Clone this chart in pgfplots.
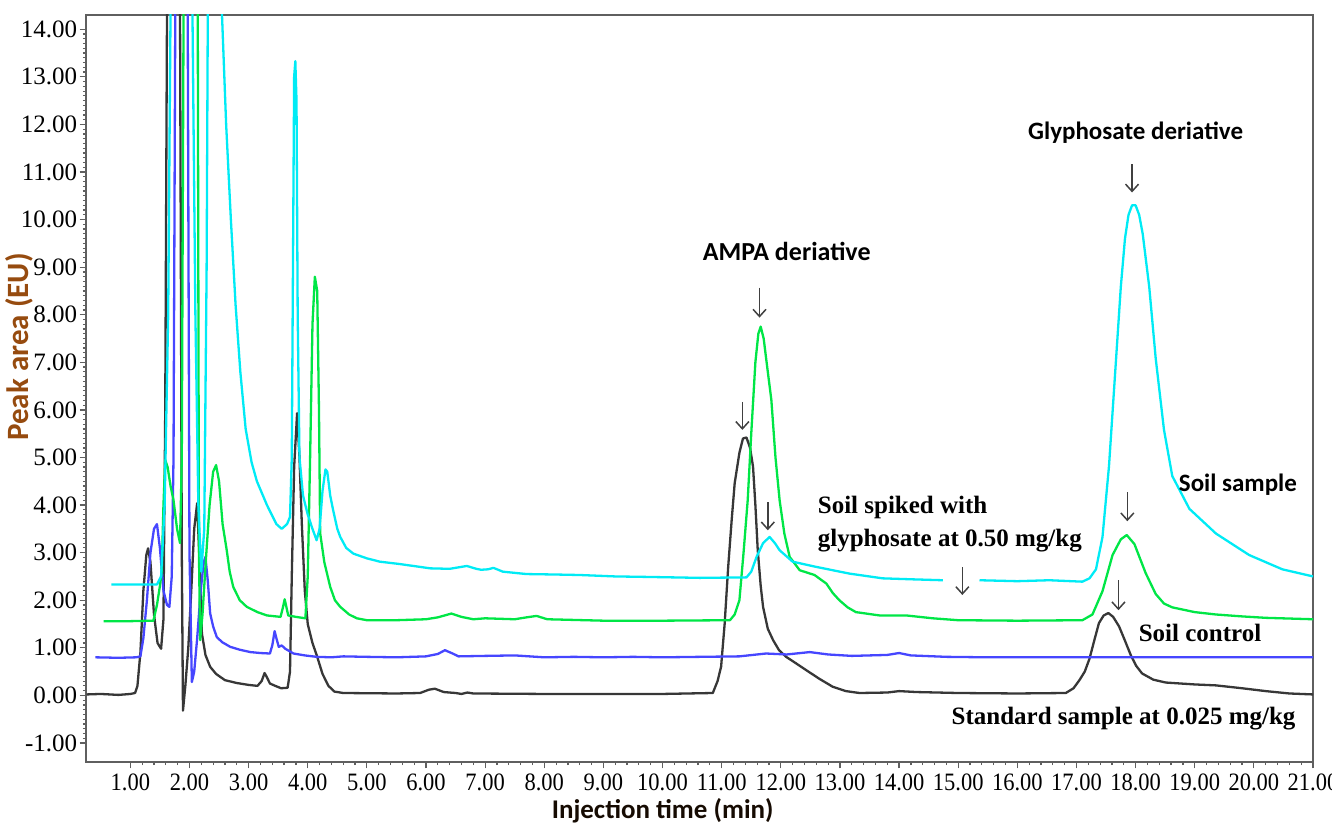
\documentclass[border=0pt]{standalone}
\usepackage{fontspec}
\setmainfont{Liberation Serif}
\newfontfamily\calib{Carlito}
\usepackage{graphicx}
\usepackage{pgfplots}
\pgfplotsset{compat=1.18}
\usetikzlibrary{arrows.meta}
\definecolor{cblack}{RGB}{55,55,55}
\definecolor{cblue}{RGB}{70,70,255}
\definecolor{cgreen}{RGB}{0,230,70}
\definecolor{ccyan}{RGB}{0,235,245}
\definecolor{axgray}{RGB}{95,95,95}
\definecolor{ylab}{RGB}{150,75,15}
\begin{document}
\begin{tikzpicture}
\begin{axis}[
  scale only axis, width=613.5pt, height=373.5pt,
  xmin=0.25, xmax=21, ymin=-1.4, ymax=14.3,
  xtick={1,...,21}, ytick={-1,0,...,14},
  minor x tick num=4, minor y tick num=9,
  tick align=outside, xtick pos=bottom, ytick pos=left,
  major tick length=3.2pt, minor tick length=1.6pt,
  every tick/.style={axgray, line width=0.6pt},
  axis line style={axgray, line width=1pt},
  unbounded coords=jump,
  xticklabel={\scalebox{0.9}[1]{\pgfmathprintnumber[fixed,fixed zerofill,precision=2,assume math mode=true]{\tick}}},
  yticklabel={\pgfmathprintnumber[fixed,fixed zerofill,precision=2,assume math mode=true]{\tick}},
  xticklabel style={font=\fontsize{12.5}{12.5}\selectfont, inner sep=1pt, yshift=-1.5pt},
  yticklabel style={font=\fontsize{12.5}{12.5}\selectfont, inner sep=1pt},
  xlabel={Injection time (min)},
  ylabel={Peak area (EU)},
  xlabel style={font=\calib\bfseries\fontsize{13.5}{13.5}\selectfont, color={black!85!ylab}, at={(axis description cs:0.47,-0.0655)}, anchor=center},
  ylabel style={font=\calib\bfseries\fontsize{15.5}{15.5}\selectfont, color=ylab, at={(axis description cs:-0.054,0.5556)}, anchor=center, rotate=0},
  every axis plot/.append style={line width=1.15pt, line join=round},
]
% Standard sample at 0.025 mg/kg
\addplot[cblack] coordinates {
(0.26,0.02) (0.5,0.03) (0.8,0.01) (1.0,0.03) (1.08,0.05) (1.12,0.2) (1.17,0.9) (1.22,2.2) (1.27,2.95) (1.30,3.09) (1.34,2.8) (1.40,1.7) (1.46,1.1) (1.52,0.98) (1.56,1.6) (1.59,6) (1.62,14.4) (1.73,20) (1.84,14.4) (1.87,3) (1.89,-0.32) (1.93,0.2) (1.98,1.0) (2.03,2.2) (2.08,3.5) (2.13,4.04) (2.17,2.8) (2.21,1.3) (2.27,0.85) (2.35,0.6) (2.45,0.45) (2.6,0.32) (2.8,0.26) (3.0,0.22) (3.15,0.2) (3.22,0.3) (3.27,0.47) (3.31,0.38) (3.36,0.25) (3.45,0.2) (3.55,0.15) (3.66,0.16) (3.70,0.5) (3.73,2.5) (3.77,4.8) (3.82,5.93) (3.86,5.0) (3.90,3.6) (3.95,2.2) (4.00,1.5) (4.08,1.1) (4.15,0.85) (4.25,0.45) (4.35,0.2) (4.45,0.08) (4.6,0.05) (5.5,0.04) (5.9,0.05) (6.05,0.12) (6.15,0.14) (6.3,0.07) (6.5,0.05) (6.6,0.03) (6.7,0.06) (6.8,0.04) (8,0.03) (10,0.03) (10.85,0.05) (10.93,0.3) (10.99,0.6) (11.05,1.5) (11.11,2.7) (11.17,3.7) (11.22,4.46) (11.3,5.1) (11.36,5.4) (11.42,5.42) (11.48,5.2) (11.53,4.81) (11.57,4.0) (11.61,3.05) (11.66,2.3) (11.70,1.86) (11.78,1.4) (11.87,1.16) (11.97,0.95) (12.09,0.81) (12.25,0.68) (12.43,0.53) (12.65,0.35) (12.88,0.18) (13.1,0.09) (13.33,0.05) (13.8,0.06) (14.0,0.09) (14.3,0.07) (15,0.05) (16,0.04) (16.82,0.05) (16.95,0.15) (17.05,0.32) (17.14,0.5) (17.22,0.77) (17.30,1.15) (17.38,1.52) (17.46,1.68) (17.54,1.73) (17.62,1.65) (17.72,1.45) (17.82,1.15) (17.92,0.84) (18.01,0.62) (18.11,0.46) (18.3,0.33) (18.51,0.27) (19,0.23) (19.36,0.21) (19.8,0.15) (20.2,0.09) (20.6,0.04) (21,0.02)
};
% Soil control
\addplot[cblue] coordinates {
(0.41,0.8) (0.8,0.79) (1.1,0.8) (1.17,0.82) (1.22,1.2) (1.28,2.0) (1.34,3.0) (1.40,3.5) (1.45,3.6) (1.50,3.1) (1.56,2.2) (1.62,1.9) (1.66,1.86) (1.70,2.5) (1.73,5) (1.76,14.4) (1.87,20) (1.97,14.4) (2.00,3) (2.04,0.28) (2.08,0.5) (2.13,1.2) (2.19,2.2) (2.24,2.8) (2.27,2.91) (2.31,2.4) (2.35,1.72) (2.40,1.45) (2.46,1.23) (2.55,1.12) (2.69,1.02) (2.85,0.96) (3.03,0.91) (3.2,0.89) (3.36,0.88) (3.40,1.05) (3.44,1.35) (3.47,1.2) (3.51,1.02) (3.56,1.05) (3.62,0.98) (3.76,0.88) (3.95,0.84) (4.15,0.81) (4.4,0.8) (4.6,0.82) (5.0,0.81) (5.5,0.8) (6.0,0.82) (6.2,0.87) (6.32,0.95) (6.45,0.88) (6.55,0.82) (7.0,0.83) (7.5,0.84) (8.0,0.8) (8.5,0.81) (9,0.80) (9.5,0.81) (10,0.80) (10.63,0.81) (11.3,0.82) (11.75,0.88) (12.1,0.86) (12.49,0.91) (12.8,0.86) (13.2,0.83) (13.8,0.85) (14.0,0.89) (14.2,0.84) (14.8,0.81) (15.5,0.8) (17,0.8) (19,0.8) (21,0.8)
};
% Soil spiked with glyphosate at 0.50 mg/kg
\addplot[cgreen] coordinates {
(0.55,1.56) (1.0,1.56) (1.39,1.57) (1.45,1.9) (1.50,2.3) (1.53,2.6) (1.56,4.0) (1.59,4.95) (1.63,4.8) (1.68,4.4) (1.73,4.1) (1.79,3.5) (1.84,3.2) (1.87,5) (1.90,14.4) (2.02,20) (2.14,14.4) (2.16,3) (2.18,1.16) (2.22,1.7) (2.28,2.9) (2.34,4.0) (2.40,4.7) (2.45,4.84) (2.50,4.5) (2.56,3.6) (2.63,3.05) (2.68,2.6) (2.74,2.28) (2.85,2.0) (2.97,1.86) (3.15,1.75) (3.31,1.68) (3.54,1.65) (3.58,1.85) (3.61,2.02) (3.64,1.85) (3.67,1.68) (3.8,1.65) (3.96,1.62) (4.00,2.5) (4.04,5) (4.08,7.8) (4.12,8.8) (4.16,8.5) (4.19,6) (4.21,3.41) (4.28,2.8) (4.38,2.28) (4.46,2.0) (4.55,1.86) (4.7,1.7) (4.83,1.62) (5.0,1.58) (5.5,1.58) (6.0,1.6) (6.2,1.64) (6.43,1.72) (6.6,1.65) (6.8,1.6) (7.0,1.62) (7.5,1.6) (7.7,1.64) (7.87,1.67) (8.05,1.6) (9,1.57) (10,1.57) (11.14,1.58) (11.22,1.7) (11.3,2.0) (11.37,3.0) (11.44,4.1) (11.5,5.5) (11.57,7.0) (11.62,7.6) (11.66,7.75) (11.71,7.5) (11.78,6.8) (11.84,6.21) (11.91,5.0) (11.98,4.1) (12.06,3.4) (12.15,2.91) (12.32,2.63) (12.57,2.53) (12.77,2.35) (12.88,2.15) (12.99,2.0) (13.13,1.85) (13.27,1.75) (13.67,1.68) (14.12,1.68) (14.57,1.62) (15,1.58) (16,1.57) (17.1,1.58) (17.27,1.7) (17.44,2.19) (17.61,2.95) (17.75,3.28) (17.85,3.37) (17.98,3.18) (18.17,2.57) (18.34,2.13) (18.48,1.93) (18.62,1.85) (19.0,1.75) (19.36,1.7) (19.8,1.66) (20.2,1.63) (21,1.6)
};
% Soil sample
\addplot[ccyan] coordinates {
(0.68,2.33) (1.0,2.33) (1.45,2.33) (1.52,2.5) (1.58,4) (1.64,8) (1.68,14.4) (1.85,20) (2.05,14.4) (2.10,8) (2.15,4) (2.20,2.6) (2.25,3.5) (2.29,9) (2.31,14.4) (2.42,20) (2.55,14.3) (2.62,12) (2.70,10) (2.78,8.2) (2.86,6.8) (2.95,5.6) (3.05,4.9) (3.14,4.5) (3.31,4.0) (3.47,3.6) (3.56,3.5) (3.65,3.6) (3.70,3.75) (3.73,5) (3.75,9) (3.77,13.0) (3.79,13.33) (3.81,12.5) (3.83,8) (3.86,5) (3.92,4.2) (4.0,3.8) (4.08,3.5) (4.15,3.26) (4.20,3.5) (4.25,4.3) (4.30,4.75) (4.33,4.7) (4.38,4.2) (4.43,3.89) (4.5,3.5) (4.55,3.33) (4.65,3.1) (4.77,2.98) (5.0,2.88) (5.22,2.81) (5.56,2.76) (6.07,2.67) (6.4,2.66) (6.69,2.72) (6.85,2.66) (6.93,2.64) (7.05,2.65) (7.14,2.68) (7.3,2.6) (7.70,2.55) (8.2,2.54) (8.60,2.53) (9.2,2.5) (9.73,2.49) (10.63,2.47) (11.42,2.48) (11.50,2.6) (11.59,2.91) (11.7,3.2) (11.81,3.33) (11.9,3.2) (11.98,3.05) (12.20,2.81) (12.6,2.70) (13.16,2.56) (13.72,2.46) (14.2,2.44) (14.74,2.42) (15.0,nan) (15.36,2.42) (16.0,2.4) (16.54,2.42) (17.10,2.39) (17.22,2.46) (17.33,2.65) (17.44,3.33) (17.55,4.82) (17.67,7.08) (17.75,8.59) (17.82,9.6) (17.88,10.1) (17.94,10.3) (18.0,10.3) (18.06,10.1) (18.12,9.7) (18.23,8.59) (18.34,7.08) (18.48,5.58) (18.62,4.61) (18.91,3.92) (19.36,3.40) (19.92,2.95) (20.48,2.65) (21,2.5)
};
% annotations
\tikzset{pk/.style={draw=black!75, line width=0.75pt, -{Straight Barb[length=3.6pt,width=6.5pt]}}}
\draw[pk] (axis cs:17.94,11.16) -- (axis cs:17.94,10.57);
\draw[pk] (axis cs:17.86,4.27) -- (axis cs:17.86,3.66);
\draw[pk] (axis cs:17.71,2.42) -- (axis cs:17.71,1.79);
\draw[pk] (axis cs:11.64,8.57) -- (axis cs:11.64,7.94);
\draw[pk] (axis cs:11.35,6.17) -- (axis cs:11.35,5.58);
\draw[pk] (axis cs:11.78,4.06) -- (axis cs:11.78,3.47);
\draw[pk] (axis cs:15.07,2.69) -- (axis cs:15.07,2.11);
\node[font=\calib\bfseries\fontsize{12.5}{12.5}\selectfont, anchor=center] at (axis cs:18.0,11.83) {Glyphosate deriative};
\node[font=\calib\bfseries\fontsize{13}{13}\selectfont, anchor=center] at (axis cs:12.1,9.33) {AMPA deriative};
\node[font=\calib\bfseries\fontsize{12.5}{12.5}\selectfont, anchor=center] at (axis cs:19.73,4.42) {Soil sample};
\node[font=\bfseries\fontsize{12.5}{16.5}\selectfont, anchor=west, align=left, inner sep=0pt] at (axis cs:12.62,3.61) {Soil spiked with\\glyphosate at 0.50 mg/kg};
\node[font=\bfseries\fontsize{12.5}{12.5}\selectfont, anchor=center] at (axis cs:19.09,1.31) {Soil control};
\node[font=\bfseries\fontsize{12.5}{12.5}\selectfont, anchor=east, inner sep=0pt] at (axis cs:20.71,-0.48) {Standard sample at 0.025 mg/kg};
\end{axis}
\pgfresetboundingbox
\path[use as bounding box] (-43pt,-33pt) rectangle (623pt,381pt);
\end{tikzpicture}
\end{document}
